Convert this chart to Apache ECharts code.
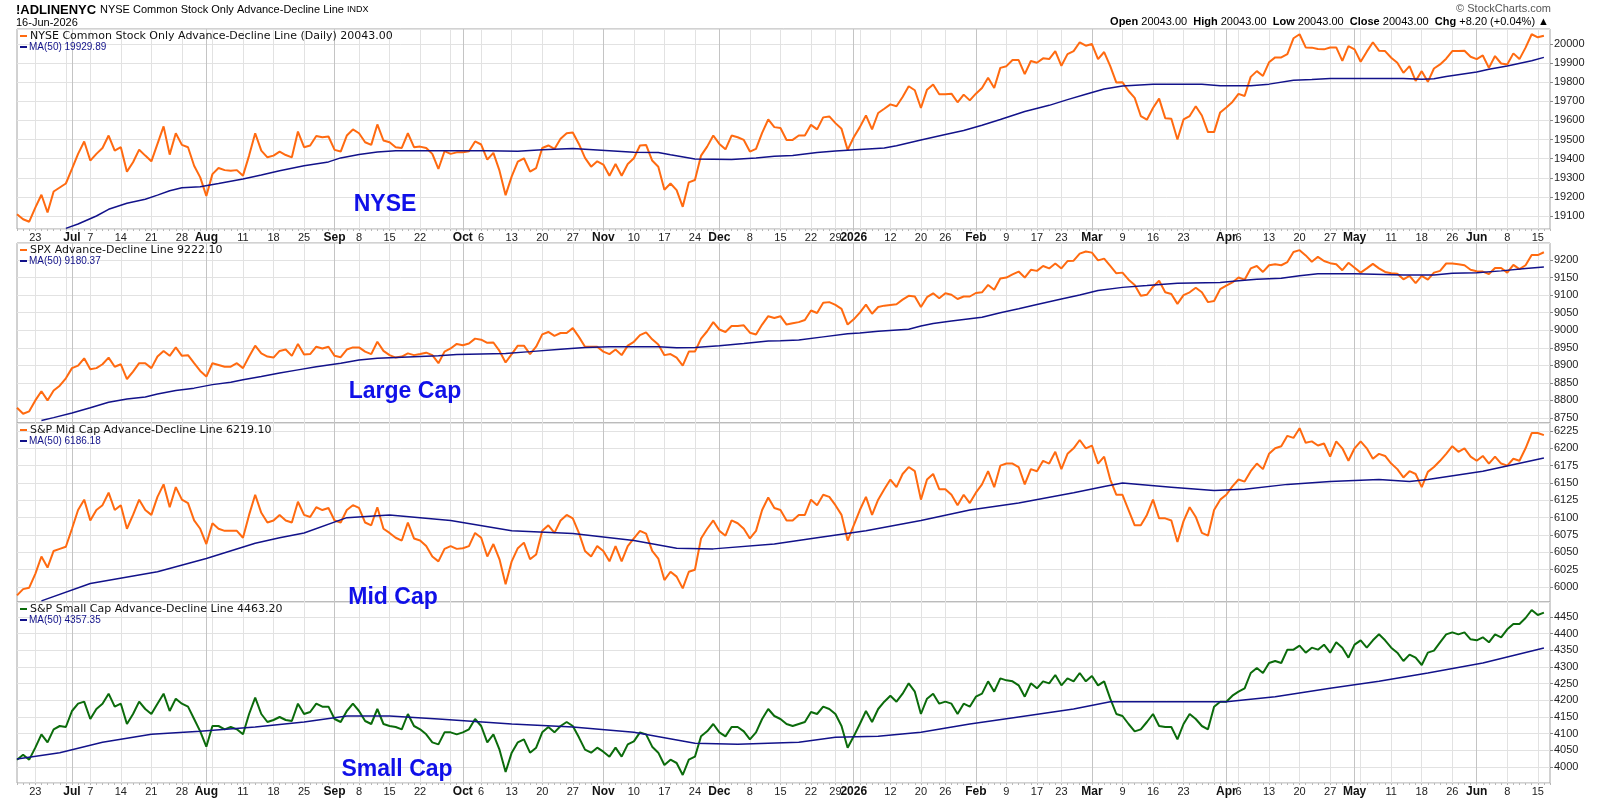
<!DOCTYPE html>
<html><head><meta charset="utf-8">
<script src="https://cdn.jsdelivr.net/npm/echarts@6/dist/echarts.min.js"></script>
<style>html,body{margin:0;padding:0;background:#fff}#c{width:1600px;height:800px}</style>
</head><body><div id="c"></div>
<script>
// ---- calendar (NYSE trading days) ----
const startDate = '2025-06-17';
const endDate = '2026-06-16';
const holidays = ['2025-06-19','2025-07-04','2025-09-01','2025-11-27','2025-12-25','2026-01-01','2026-01-19','2026-02-16','2026-04-03','2026-05-25'];
const monthNames = ['Jan','Feb','Mar','Apr','May','Jun','Jul','Aug','Sep','Oct','Nov','Dec'];

// ---- panel 1: NYSE Common Stock Only A-D line ----
const nyseAD = [19109,19083,19070,19144,19211,19118,19228,19249,19270,19346,
19425,19490,19390,19425,19456,19521,19442,19460,19332,19381,
19447,19416,19386,19477,19569,19421,19533,19472,19460,19363,
19302,19205,19319,19351,19340,19337,19340,19311,19416,19533,
19442,19407,19416,19437,19419,19407,19542,19460,19469,19519,
19512,19516,19446,19437,19521,19553,19533,19486,19472,19579,
19495,19486,19460,19456,19533,19460,19463,19456,19425,19346,
19439,19425,19433,19433,19439,19490,19474,19395,19430,19337,
19209,19307,19384,19402,19332,19351,19456,19469,19451,19504,
19533,19537,19477,19404,19358,19386,19369,19311,19372,19311,
19372,19402,19469,19472,19390,19358,19237,19270,19235,19148,
19276,19288,19416,19463,19521,19477,19449,19521,19512,19498,
19437,19451,19535,19605,19565,19560,19498,
19498,19521,19521,19577,19553,19616,19621,19586,19556,19446,
19512,19565,19626,19553,19639,19661,19684,19674,19723,19779,
19758,19665,19761,19788,19737,19737,19740,19695,19735,19705,
19740,19770,19823,19770,19875,19884,19916,19916,19842,19911,
19902,19925,19921,19963,19886,19947,19963,20009,19991,20000,
19921,19958,19884,19798,19800,19754,19718,19623,19604,19665,
19714,19612,19609,19500,19605,19623,19674,19626,19539,19539,
19642,19668,19697,19739,19728,19828,19858,19833,19904,19930,
19930,19947,20030,20051,19982,19981,19974,19972,19982,19982,
19912,19989,19972,19907,19960,20009,19965,19963,19928,19902,
19849,19884,19807,19858,19802,19872,19893,19923,19963,19963,
19965,19933,19921,19940,19875,19937,19898,19893,19951,19921,
19981,20051,20035,20043];
const nyseMA = [['2025-06-30',19035],['2025-07-02',19058],['2025-07-08',19100],['2025-07-10',19135],['2025-07-15',19167],['2025-07-18',19188],['2025-07-22',19209],['2025-07-24',19232],['2025-07-28',19248],['2025-07-31',19253],['2025-08-05',19270],['2025-08-11',19293],['2025-08-14',19314],['2025-08-19',19337],['2025-08-25',19363],['2025-08-29',19383],['2025-09-03',19404],['2025-09-08',19422],['2025-09-11',19435],['2025-09-16',19442],['2025-10-07',19442],['2025-10-14',19439],['2025-10-20',19447],['2025-10-27',19453],['2025-11-04',19442],['2025-11-10',19434],['2025-11-14',19432],['2025-11-18',19420],['2025-11-24',19398],['2025-12-03',19395],['2025-12-09',19404],['2025-12-12',19412],['2025-12-17',19416],['2025-12-23',19432],['2025-12-29',19440],['2026-01-05',19448],['2026-01-09',19456],['2026-01-13',19468],['2026-01-20',19498],['2026-01-26',19526],['2026-01-29',19547],['2026-02-03',19575],['2026-02-06',19605],['2026-02-12',19647],['2026-02-19',19679],['2026-02-24',19709],['2026-02-27',19737],['2026-03-04',19765],['2026-03-09',19780],['2026-03-16',19790],['2026-03-20',19790],['2026-03-26',19790],['2026-03-31',19781],['2026-04-08',19781],['2026-04-13',19790],['2026-04-17',19810],['2026-04-22',19814],['2026-04-27',19819],['2026-05-13',19819],['2026-05-18',19816],['2026-05-20',19818],['2026-05-22',19830],['2026-06-01',19854],['2026-06-03',19868],['2026-06-08',19885],['2026-06-12',19912],['2026-06-16',19930]];

// ---- panel 2: SPX A-D line ----
const spxAD = [8779,8762,8769,8800,8826,8800,8828,8842,8863,8892,
8899,8920,8889,8892,8903,8922,8896,8903,8861,8882,
8906,8906,8892,8925,8941,8927,8951,8927,8929,8906,
8884,8868,8906,8901,8896,8896,8906,8892,8925,8956,
8934,8925,8922,8941,8945,8927,8961,8931,8932,8953,
8948,8953,8927,8923,8945,8951,8951,8939,8932,8967,
8941,8929,8922,8925,8934,8929,8932,8936,8929,8906,
8939,8948,8961,8957,8962,8976,8973,8964,8965,8941,
8908,8932,8956,8956,8932,8953,8988,8995,8984,8992,
8992,9006,8981,8953,8953,8953,8939,8932,8945,8929,
8956,8967,8986,8994,8974,8959,8929,8932,8922,8899,
8939,8939,8976,8997,9023,9002,8995,9012,9012,9014,
8993,8988,9016,9040,9035,9040,9016,
9020,9023,9029,9056,9049,9078,9080,9072,9061,9016,
9031,9050,9073,9047,9066,9070,9072,9074,9087,9098,
9096,9066,9094,9105,9091,9105,9101,9089,9096,9096,
9106,9108,9129,9115,9147,9150,9159,9167,9150,9172,
9169,9183,9176,9190,9176,9197,9198,9218,9224,9221,
9199,9204,9183,9162,9164,9144,9129,9098,9101,9124,
9141,9108,9103,9075,9100,9108,9121,9108,9080,9083,
9117,9127,9136,9150,9144,9176,9183,9166,9185,9188,
9185,9194,9223,9228,9213,9195,9209,9197,9191,9188,
9171,9192,9178,9164,9176,9189,9176,9166,9162,9161,
9145,9155,9134,9155,9144,9164,9169,9190,9190,9188,
9185,9172,9168,9167,9160,9177,9177,9164,9186,9174,
9185,9214,9214,9222];
const spxMA = [['2025-06-24',8743],['2025-06-26',8751],['2025-07-01',8764],['2025-07-07',8779],['2025-07-10',8795],['2025-07-15',8804],['2025-07-18',8810],['2025-07-22',8818],['2025-07-25',8828],['2025-07-30',8835],['2025-08-04',8845],['2025-08-07',8852],['2025-08-11',8859],['2025-08-14',8868],['2025-08-19',8878],['2025-08-22',8887],['2025-08-27',8896],['2025-09-03',8906],['2025-09-08',8915],['2025-09-11',8920],['2025-09-16',8922],['2025-09-25',8927],['2025-09-30',8931],['2025-10-10',8934],['2025-10-16',8939],['2025-10-23',8946],['2025-10-29',8951],['2025-11-04',8953],['2025-11-14',8953],['2025-11-19',8950],['2025-11-24',8951],['2025-12-01',8956],['2025-12-05',8962],['2025-12-11',8969],['2025-12-15',8970],['2025-12-18',8972],['2025-12-24',8981],['2025-12-31',8990],['2026-01-05',8992],['2026-01-08',8997],['2026-01-15',9003],['2026-01-20',9012],['2026-01-22',9019],['2026-01-27',9026],['2026-02-03',9037],['2026-02-06',9050],['2026-02-11',9061],['2026-02-17',9073],['2026-02-23',9089],['2026-02-26',9100],['2026-03-03',9113],['2026-03-09',9122],['2026-03-13',9127],['2026-03-20',9134],['2026-03-31',9136],['2026-04-06',9141],['2026-04-09',9145],['2026-04-15',9148],['2026-04-20',9155],['2026-04-23',9161],['2026-05-01',9161],['2026-05-13',9157],['2026-05-20',9157],['2026-05-26',9162],['2026-06-01',9164],['2026-06-05',9169],['2026-06-11',9176],['2026-06-16',9180]];

// ---- panel 3: S&P Mid Cap A-D line ----
const midAD = [5988,5997,5999,6019,6044,6028,6052,6055,6058,6084,
6111,6126,6096,6111,6118,6136,6111,6118,6084,6104,
6126,6111,6104,6130,6148,6115,6144,6126,6121,6096,
6084,6062,6092,6084,6081,6081,6081,6071,6104,6133,
6107,6093,6096,6104,6096,6093,6123,6104,6101,6115,
6111,6114,6096,6093,6111,6118,6114,6093,6089,6115,
6084,6078,6071,6067,6093,6070,6067,6059,6044,6037,
6055,6059,6055,6056,6059,6078,6071,6044,6062,6040,
6004,6037,6056,6064,6040,6047,6081,6089,6078,6096,
6104,6099,6078,6052,6044,6059,6052,6037,6059,6037,
6059,6070,6081,6077,6052,6041,6010,6022,6015,5998,
6022,6025,6070,6084,6096,6081,6074,6096,6092,6084,
6070,6081,6111,6129,6114,6111,6096,6096,6104,6104,
6126,6118,6133,6130,6118,6104,6067,6089,6111,6130,
6104,6126,6141,6155,6144,6163,6173,6167,6126,6155,
6163,6141,6141,6133,6118,6133,6121,6136,6148,6167,
6144,6175,6178,6178,6173,6148,6170,6167,6182,6178,
6195,6170,6192,6200,6212,6200,6204,6178,6188,6155,
6133,6133,6111,6089,6089,6104,6126,6099,6099,6096,
6065,6095,6115,6101,6078,6074,6111,6126,6133,6145,
6155,6152,6167,6178,6170,6192,6200,6203,6218,6215,
6229,6208,6210,6204,6207,6188,6210,6200,6182,6200,
6210,6200,6185,6192,6189,6178,6170,6158,6167,6163,
6144,6166,6173,6182,6192,6203,6195,6200,6188,6182,
6189,6178,6188,6178,6175,6185,6182,6200,6222,6222,
6219];
const midMA = [['2025-06-24',5980],['2025-07-07',6005],['2025-07-22',6022],['2025-08-01',6041],['2025-08-13',6063],['2025-08-19',6071],['2025-08-25',6078],['2025-09-04',6100],['2025-09-15',6104],['2025-09-29',6096],['2025-10-13',6081],['2025-10-27',6077],['2025-11-10',6067],['2025-11-19',6056],['2025-11-28',6055],['2025-12-12',6062],['2025-12-23',6071],['2026-01-06',6081],['2026-01-20',6096],['2026-01-30',6111],['2026-02-11',6121],['2026-02-25',6136],['2026-03-04',6145],['2026-03-09',6150],['2026-03-19',6144],['2026-03-30',6139],['2026-04-07',6141],['2026-04-16',6148],['2026-04-27',6152],['2026-05-07',6155],['2026-05-14',6152],['2026-05-19',6155],['2026-06-02',6167],['2026-06-16',6186]];

// ---- panel 4: S&P Small Cap A-D line ----
const smallAD = [4022,4037,4022,4058,4098,4074,4113,4123,4120,4168,
4190,4196,4144,4174,4190,4220,4181,4190,4129,4159,
4196,4174,4159,4190,4220,4168,4205,4190,4181,4144,
4107,4061,4123,4123,4113,4120,4113,4098,4159,4208,
4159,4135,4141,4150,4141,4138,4190,4159,4165,4190,
4181,4181,4144,4135,4168,4190,4168,4138,4129,4174,
4129,4123,4120,4113,4159,4123,4113,4098,4074,4068,
4104,4104,4098,4104,4113,4144,4123,4074,4098,4052,
3985,4043,4074,4083,4043,4058,4104,4120,4104,4123,
4135,4123,4089,4052,4043,4058,4046,4031,4058,4031,
4068,4077,4104,4098,4061,4043,4006,4022,4012,3976,
4022,4031,4092,4107,4129,4104,4092,4120,4120,4107,
4083,4104,4144,4174,4153,4144,4129,4123,4129,4135,
4165,4159,4181,4174,4159,4123,4058,4092,4129,4168,
4135,4174,4196,4214,4196,4220,4251,4226,4159,4205,
4220,4190,4196,4190,4159,4190,4181,4211,4220,4257,
4226,4266,4260,4257,4245,4211,4251,4236,4257,4251,
4276,4245,4266,4257,4282,4257,4273,4245,4257,4205,
4159,4153,4129,4107,4113,4135,4159,4123,4120,4120,
4083,4129,4159,4144,4123,4113,4181,4196,4196,4214,
4226,4236,4282,4297,4282,4312,4318,4312,4352,4352,
4364,4343,4358,4352,4367,4343,4374,4358,4328,4367,
4380,4358,4380,4398,4380,4358,4343,4318,4337,4328,
4306,4343,4349,4374,4398,4404,4398,4404,4383,4380,
4389,4374,4398,4389,4413,4429,4429,4447,4471,4456,
4463];
const smallMA = [['2025-06-17',4024],['2025-06-27',4043],['2025-07-09',4074],['2025-07-21',4098],['2025-07-31',4107],['2025-08-13',4120],['2025-08-25',4135],['2025-09-04',4153],['2025-09-15',4153],['2025-09-25',4144],['2025-10-13',4129],['2025-10-27',4120],['2025-11-10',4104],['2025-11-24',4071],['2025-12-04',4068],['2025-12-18',4074],['2025-12-29',4089],['2026-01-08',4092],['2026-01-20',4104],['2026-01-30',4129],['2026-02-11',4150],['2026-02-25',4174],['2026-03-05',4196],['2026-03-12',4196],['2026-04-01',4196],['2026-04-14',4211],['2026-04-27',4236],['2026-05-07',4257],['2026-05-19',4282],['2026-06-02',4312],['2026-06-16',4357]];

// ---- tick labels ----
const yTicks1 = {min:19031.9, max:20078.5, step:100};
const yTicks2 = {min:8735.7, max:9248.4, step:50};
const yTicks3 = {min:5978.4, max:6236.5, step:25};
const yTicks4 = {min:3952, max:4495, step:50};

// ---------------------------------------------------------------
function tradingDays(){
  const out=[]; let t=Date.parse(startDate+'T00:00:00Z'); const end=Date.parse(endDate+'T00:00:00Z');
  while(t<=end){ const d=new Date(t); const w=d.getUTCDay(); const s=d.toISOString().slice(0,10);
    if(w>0&&w<6&&holidays.indexOf(s)<0) out.push(s); t+=86400000; }
  return out;
}
const dates = tradingDays();
const categories = dates.concat(['']);
const isMonthStart = dates.map((s,i)=> i>0 && s.slice(5,7)!==dates[i-1].slice(5,7));
const isWeekStart = dates.map((s,i)=>{ if(i===0) return false;
  const a=new Date(dates[i-1]+'T00:00:00Z'), b=new Date(s+'T00:00:00Z');
  return b.getUTCDay()<=a.getUTCDay() || (b-a)>4*86400000; });
const labelText = dates.map((s,i)=>{
  if(isMonthStart[i]){ const m=+s.slice(5,7); return m===1? s.slice(0,4) : monthNames[m-1]; }
  if(isWeekStart[i]){ if(isMonthStart[i+1]||isMonthStart[i+2]||isMonthStart[i-1]) return ''; return String(+s.slice(8,10)); }
  return '';
});

const FONT='"Liberation Sans", Arial, sans-serif';
const panels = [
  {top:29, height:200, y:yTicks1, ad:nyseAD, ma:nyseMA, color:'#ff6a10', labels:true},
  {top:243, height:180, y:yTicks2, ad:spxAD, ma:spxMA, color:'#ff6a10', labels:false},
  {top:423, height:179, y:yTicks3, ad:midAD, ma:midMA, color:'#ff6a10', labels:false},
  {top:602, height:181, y:yTicks4, ad:smallAD, ma:smallMA, color:'#0b6b0b', labels:true}
];
const grid=[], xAxis=[], yAxis=[], series=[];
panels.forEach((p,k)=>{
  grid.push({left:17, right:50, top:p.top, height:p.height, show:true, borderColor:'#a4a4a4', borderWidth:1, backgroundColor:'transparent', containLabel:false, outerBoundsMode:'none'});
  xAxis.push({type:'category', gridIndex:k, data:categories, boundaryGap:false,
    axisLine:{show:false},
    axisTick:{show:p.labels, interval:0, length:2, lineStyle:{color:'#b8b8b8'}},
    axisLabel:{show:p.labels, interval:(i)=>!!labelText[i], margin:3, fontSize:11, color:'#222', fontFamily:FONT,
      formatter:(v,i)=> isMonthStart[i] ? '{m|'+labelText[i]+'}' : labelText[i],
      rich:{m:{fontWeight:'bold', fontSize:12, color:'#111', fontFamily:FONT}}},
    splitLine:{show:true, interval:(i)=>!!isWeekStart[i] && !isMonthStart[i], lineStyle:{color:'#e2e2e2', width:1}}
  });
  xAxis.push({type:'category', gridIndex:k, data:categories, boundaryGap:false,
    axisLine:{show:false}, axisTick:{show:false}, axisLabel:{show:false},
    splitLine:{show:true, interval:(i)=>!!isMonthStart[i], lineStyle:{color:'#c4c4c4', width:1}}
  });
  yAxis.push({type:'value', gridIndex:k, position:'right', min:p.y.min, max:p.y.max,
    minInterval:p.y.step, maxInterval:p.y.step, splitNumber:Math.round((p.y.max-p.y.min)/p.y.step), scale:true,
    axisLine:{show:false}, axisTick:{show:true, length:3, lineStyle:{color:'#888'}},
    axisLabel:{fontSize:11, color:'#222', margin:4, fontFamily:FONT, showMinLabel:false, showMaxLabel:false,
      formatter:(v)=>String(Math.round(v))},
    splitLine:{show:true, lineStyle:{color:'#e2e2e2', width:1}}
  });
  series.push({type:'line', xAxisIndex:2*k, yAxisIndex:k, data:p.ad, showSymbol:false, symbol:'none',
    lineStyle:{color:p.color, width:2}, z:3, animation:false});
  series.push({type:'line', xAxisIndex:2*k, yAxisIndex:k, data:p.ma, showSymbol:false, symbol:'none',
    lineStyle:{color:'#12128a', width:1.5}, z:4, animation:false});
});

function txt(x,y,text,font,fill,align,extra){ return Object.assign({type:'text', x:x, y:y, z:100,
  style:{text:text, font:font, fill:fill||'#000', textAlign:align||'left', textVerticalAlign:'middle'}}, extra||{}); }
function dash(x,y,color){ return {type:'rect', z:100, shape:{x:x, y:y-1, width:7, height:2}, style:{fill:color}}; }
const legends = [
  ['NYSE Common Stock Only Advance-Decline Line (Daily) 20043.00','MA(50) 19929.89','#ff6a10'],
  ['SPX Advance-Decline Line 9222.10','MA(50) 9180.37','#ff6a10'],
  ['S&P Mid Cap Advance-Decline Line 6219.10','MA(50) 6186.18','#ff6a10'],
  ['S&P Small Cap Advance-Decline Line 4463.20','MA(50) 4357.35','#0b6b0b']
];
const graphic = [];
legends.forEach((l,k)=>{
  const t=panels[k].top;
  graphic.push(dash(20,t+7,l[2]));
  graphic.push(txt(30,t+7,l[0],'11px "DejaVu Sans", Verdana, sans-serif','#111'));
  graphic.push(dash(20,t+18,'#12128a'));
  graphic.push(txt(29,t+18,l[1],'10px '+FONT,'#12128a'));
});
const bigLabels=[['NYSE',385,205],['Large Cap',405,392],['Mid Cap',393,598],['Small Cap',397,770]];
bigLabels.forEach(b=>graphic.push(txt(b[1],b[2],b[0],'bold 23px '+FONT,'#1010e8','center')));
graphic.push(txt(16,10,'!ADLINENYC','bold 13px '+FONT,'#000'));
graphic.push({type:'text', x:100, y:10, z:100, style:{text:'NYSE Common Stock Only Advance-Decline Line {s|INDX}', font:'11px '+FONT, fill:'#000', textVerticalAlign:'middle', rich:{s:{fontSize:9, fontFamily:FONT}}}});
graphic.push(txt(16,23,'16-Jun-2026','11px '+FONT,'#000'));
graphic.push(txt(1551,9,'\u00a9 StockCharts.com','11px '+FONT,'#555','right'));
graphic.push({type:'text', x:1549, y:22, z:100, style:{text:'{b|Open} 20043.00  {b|High} 20043.00  {b|Low} 20043.00  {b|Close} 20043.00  {b|Chg} +8.20 (+0.04%) \u25b2', font:'11px '+FONT, fill:'#000', textAlign:'right', textVerticalAlign:'middle', rich:{b:{fontWeight:'bold', fontSize:11, fontFamily:FONT}}}});

const chart = echarts.init(document.getElementById('c'), null, {renderer:'canvas'});
chart.setOption({animation:false, backgroundColor:'#fff', grid, xAxis, yAxis, series, graphic});
</script></body></html>
